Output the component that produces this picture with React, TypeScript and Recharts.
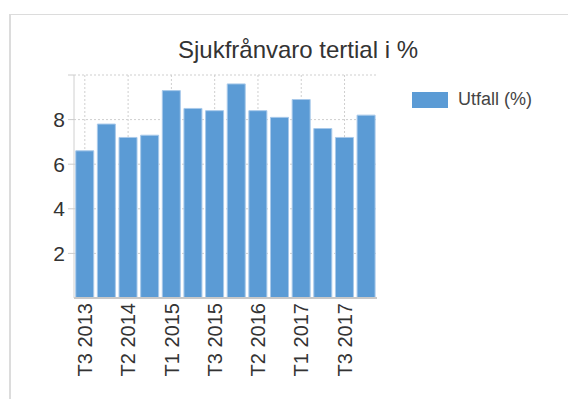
import { BarChart, Bar, XAxis, YAxis, CartesianGrid, Legend } from "recharts";

const categories = [
  "T3 2013", "T1 2014", "T2 2014", "T3 2014", "T1 2015", "T2 2015", "T3 2015",
  "T1 2016", "T2 2016", "T3 2016", "T1 2017", "T2 2017", "T3 2017", "T1 2018",
];
const utfall = [6.6, 7.8, 7.2, 7.3, 9.3, 8.5, 8.4, 9.6, 8.4, 8.1, 8.9, 7.6, 7.2, 8.2];
const yTicks = [2, 4, 6, 8, 10];

const data = categories.map((tertial, i) => ({ tertial, utfall: utfall[i] }));

const FONT = "'Liberation Sans', Arial, sans-serif";

function XTick({ x, y, payload, index }: any) {
  if (index % 2 !== 0) return null;
  return (
    <text
      x={x}
      y={y}
      transform={`rotate(-90, ${x}, ${y})`}
      textAnchor="end"
      dy="0.36em"
      fontSize={20}
      fontFamily={FONT}
      fill="#333"
    >
      {payload.value}
    </text>
  );
}

function YTick({ x, y, payload }: any) {
  if (payload.value === 10) return null;
  return (
    <text x={x} y={y} textAnchor="end" dy="0.36em" fontSize={21} fontFamily={FONT} fill="#333">
      {payload.value}
    </text>
  );
}

function LegendBox() {
  return (
    <div style={{ display: "flex", alignItems: "center", fontFamily: FONT }}>
      <div style={{ width: 36, height: 16, background: "#5b9bd5", marginRight: 10 }} />
      <span style={{ fontSize: 18, color: "#444" }}>Utfall (%)</span>
    </div>
  );
}

// vertical grid only at the labelled categories
function verticalLines({ xAxis, offset }: any) {
  const ticks = xAxis?.ticks;
  if (Array.isArray(ticks) && ticks.length === categories.length) {
    return ticks.filter((_: any, i: number) => i % 2 === 0).map((t: any) => t.coordinate);
  }
  const band = offset.width / categories.length;
  return categories
    .map((_, i) => offset.left + band * (i + 0.5))
    .filter((_, i) => i % 2 === 0);
}

export default function App() {
  return (
    <div style={{ position: "relative", width: 568, height: 395 }}>
      <div
        style={{
          position: "absolute",
          left: 1,
          top: 6,
          width: 567,
          height: 384,
          borderTop: "1px solid #dcdcdc",
          borderLeft: "2px solid #dcdcdc",
        }}
      />
      <BarChart
        width={568}
        height={395}
        data={data}
        margin={{ top: 67, right: 39, bottom: 5, left: 0 }}
        barCategoryGap="8%"
        style={{ position: "absolute", left: 0, top: 0 }}
      >
        <text x={290} y={50} textAnchor="middle" fontSize={24} fontFamily={FONT} fill="#333">
          Sjukfrånvaro tertial i %
        </text>
        <CartesianGrid
          stroke="#cfcfcf"
          strokeDasharray="2 2"
          verticalCoordinatesGenerator={verticalLines}
        />
        <XAxis
          dataKey="tertial"
          interval={0}
          height={100}
          tickSize={0}
          tickMargin={5}
          tick={<XTick />}
          axisLine={{ stroke: "#c8c8c8", strokeWidth: 2 }}
        />
        <YAxis
          width={66}
          domain={[0, 10]}
          ticks={yTicks}
          tick={<YTick />}
          tickSize={6}
          tickMargin={3}
          tickLine={{ stroke: "#cccccc" }}
          axisLine={{ stroke: "#d0d0d0" }}
        />
        <Legend
          layout="vertical"
          verticalAlign="top"
          align="right"
          content={<LegendBox />}
          wrapperStyle={{ left: 404, top: 81, width: 160 }}
        />
        <Bar
          dataKey="utfall"
          name="Utfall (%)"
          fill="#5b9bd5"
          stroke="#a8c9ea"
          strokeWidth={1}
          isAnimationActive={false}
        />
      </BarChart>
    </div>
  );
}
